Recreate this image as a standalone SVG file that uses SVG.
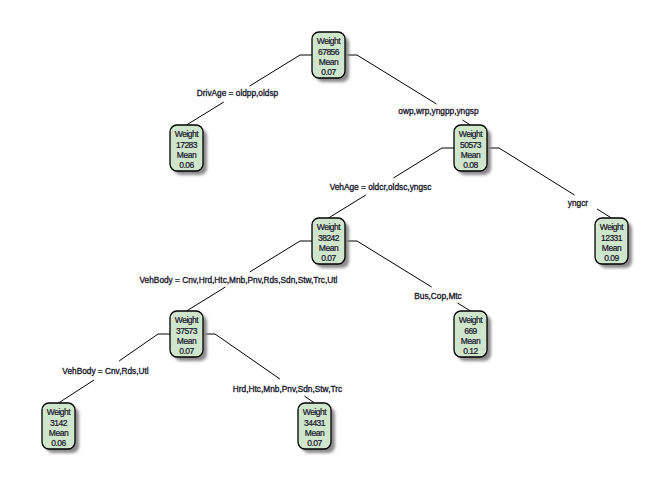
<svg xmlns="http://www.w3.org/2000/svg" width="672" height="480" viewBox="0 0 672 480">
<defs>
<filter id="blur" x="-30%" y="-30%" width="160%" height="160%"><feGaussianBlur stdDeviation="1.4"/></filter>
<style>
.box{fill:#cfe5cc;stroke:#000;stroke-width:1.3}
.sh{fill:#8a8a8a;filter:url(#blur)}
.nt{font-family:"Liberation Sans",Arial,sans-serif;font-size:8.5px;letter-spacing:-0.5px;fill:#141428;stroke:#141428;stroke-width:0.2;text-anchor:middle}
.lb{font-family:"Liberation Sans",Arial,sans-serif;font-size:8.3px;fill:#141428;stroke:#141428;stroke-width:0.3;text-anchor:middle}
.cn{fill:none;stroke:#000;stroke-width:1}
</style>
</defs>
<rect width="672" height="480" fill="#fff"/>
<g id="connectors">
<path class="cn" d="M312,55 H300 L249.7,86 M223.8,102 L186.5,125"/>
<path class="cn" d="M345,55 H357 L436.5,104 M462.4,120 L470.5,125"/>
<path class="cn" d="M454,148 H442 L393.4,178 M365.8,195 L328.5,218"/>
<path class="cn" d="M487,148 H499 L574.5,195 M597,209 L611.5,218"/>
<path class="cn" d="M312,241 H300 L249.7,272 M225.4,287 L186.5,311"/>
<path class="cn" d="M345,241 H357 L431.6,287 M457.5,303 L470.5,311"/>
<path class="cn" d="M170,334 H158 L119.1,361 M94,380 L58.5,403"/>
<path class="cn" d="M203,334 H215 L279.9,379 M304.4,396 L314.5,403"/>
<text class="lb" x="237.5" y="96">DrivAge = oldpp,oldsp</text>
<text class="lb" x="438.5" y="114">owp,wrp,yngpp,yngsp</text>
<text class="lb" x="380.5" y="190">VehAge = oldcr,oldsc,yngsc</text>
<text class="lb" x="578" y="206">yngcr</text>
<text class="lb" x="238.5" y="283">VehBody = Cnv,Hrd,Htc,Mnb,Pnv,Rds,Sdn,Stw,Trc,Utl</text>
<text class="lb" x="438" y="299">Bus,Cop,Mtc</text>
<text class="lb" x="105.5" y="374">VehBody = Cnv,Rds,Utl</text>
<text class="lb" x="287.5" y="392">Hrd,Htc,Mnb,Pnv,Sdn,Stw,Trc</text>
</g>
<g id="n1" transform="translate(312,32)">
<rect class="sh" x="4" y="4" width="33" height="46" rx="7"/>
<rect class="box" width="33" height="46" rx="7"/>
<text class="nt" x="16.5" y="12">Weight</text><text class="nt" x="16.5" y="22.5">67856</text><text class="nt" x="16.5" y="32.5">Mean</text><text class="nt" x="16.5" y="42.5">0.07</text>
</g>
<g id="n2" transform="translate(170,125)">
<rect class="sh" x="4" y="4" width="33" height="46" rx="7"/>
<rect class="box" width="33" height="46" rx="7"/>
<text class="nt" x="16.5" y="12">Weight</text><text class="nt" x="16.5" y="22.5">17283</text><text class="nt" x="16.5" y="32.5">Mean</text><text class="nt" x="16.5" y="42.5">0.06</text>
</g>
<g id="n3" transform="translate(454,125)">
<rect class="sh" x="4" y="4" width="33" height="46" rx="7"/>
<rect class="box" width="33" height="46" rx="7"/>
<text class="nt" x="16.5" y="12">Weight</text><text class="nt" x="16.5" y="22.5">50573</text><text class="nt" x="16.5" y="32.5">Mean</text><text class="nt" x="16.5" y="42.5">0.08</text>
</g>
<g id="n4" transform="translate(312,218)">
<rect class="sh" x="4" y="4" width="33" height="46" rx="7"/>
<rect class="box" width="33" height="46" rx="7"/>
<text class="nt" x="16.5" y="12">Weight</text><text class="nt" x="16.5" y="22.5">38242</text><text class="nt" x="16.5" y="32.5">Mean</text><text class="nt" x="16.5" y="42.5">0.07</text>
</g>
<g id="n5" transform="translate(595,218)">
<rect class="sh" x="4" y="4" width="33" height="46" rx="7"/>
<rect class="box" width="33" height="46" rx="7"/>
<text class="nt" x="16.5" y="12">Weight</text><text class="nt" x="16.5" y="22.5">12331</text><text class="nt" x="16.5" y="32.5">Mean</text><text class="nt" x="16.5" y="42.5">0.09</text>
</g>
<g id="n6" transform="translate(170,311)">
<rect class="sh" x="4" y="4" width="33" height="46" rx="7"/>
<rect class="box" width="33" height="46" rx="7"/>
<text class="nt" x="16.5" y="12">Weight</text><text class="nt" x="16.5" y="22.5">37573</text><text class="nt" x="16.5" y="32.5">Mean</text><text class="nt" x="16.5" y="42.5">0.07</text>
</g>
<g id="n7" transform="translate(454,311)">
<rect class="sh" x="4" y="4" width="33" height="46" rx="7"/>
<rect class="box" width="33" height="46" rx="7"/>
<text class="nt" x="16.5" y="12">Weight</text><text class="nt" x="16.5" y="22.5">669</text><text class="nt" x="16.5" y="32.5">Mean</text><text class="nt" x="16.5" y="42.5">0.12</text>
</g>
<g id="n8" transform="translate(42,403)">
<rect class="sh" x="4" y="4" width="33" height="46" rx="7"/>
<rect class="box" width="33" height="46" rx="7"/>
<text class="nt" x="16.5" y="12">Weight</text><text class="nt" x="16.5" y="22.5">3142</text><text class="nt" x="16.5" y="32.5">Mean</text><text class="nt" x="16.5" y="42.5">0.06</text>
</g>
<g id="n9" transform="translate(298,403)">
<rect class="sh" x="4" y="4" width="33" height="46" rx="7"/>
<rect class="box" width="33" height="46" rx="7"/>
<text class="nt" x="16.5" y="12">Weight</text><text class="nt" x="16.5" y="22.5">34431</text><text class="nt" x="16.5" y="32.5">Mean</text><text class="nt" x="16.5" y="42.5">0.07</text>
</g>
</svg>
